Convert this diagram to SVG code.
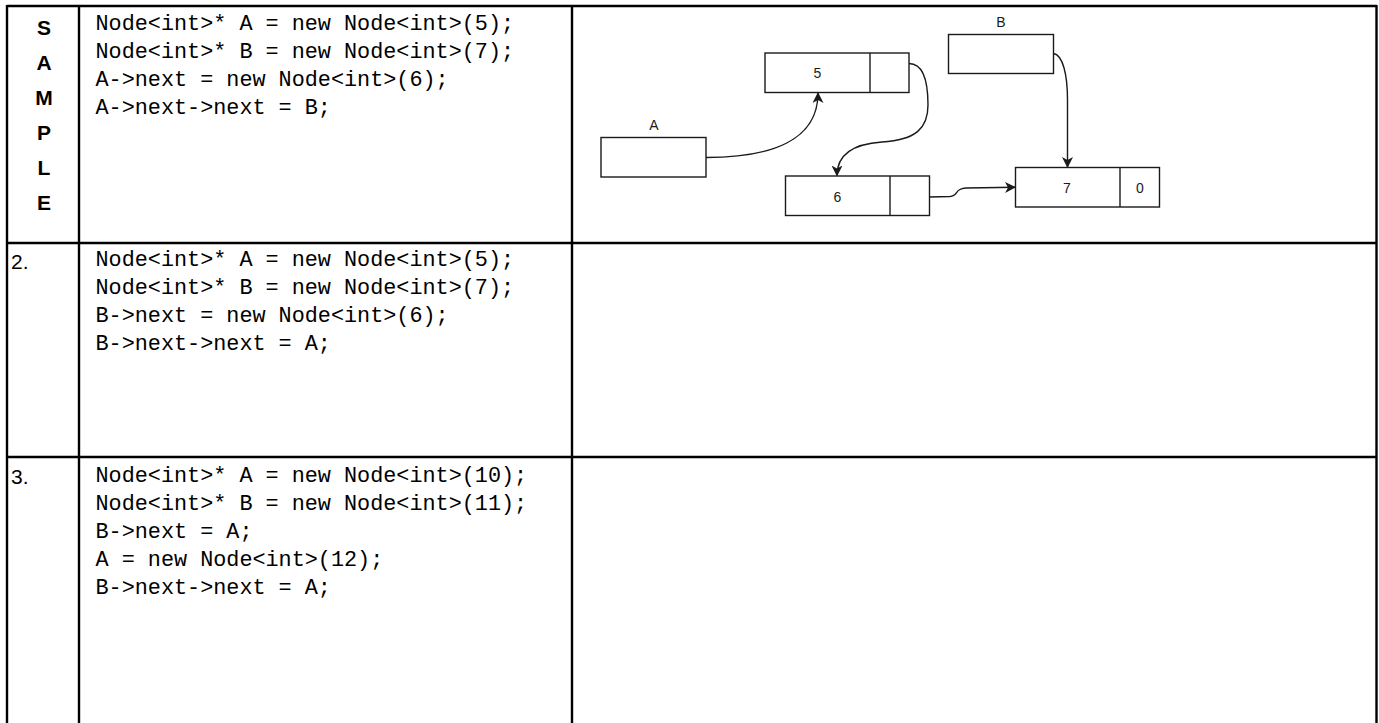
<svg xmlns="http://www.w3.org/2000/svg" width="1379" height="723" viewBox="0 0 1379 723">
  <style>
    .grid { stroke: #000; stroke-width: 2.4; fill: none; }
    .code { font-family: "Liberation Mono", "DejaVu Sans Mono", monospace; font-size: 21.8px; fill: #000; }
    .tag { font-family: "Liberation Sans", Arial, sans-serif; font-size: 21px; fill: #000; }
    .tagb { font-family: "Liberation Sans", Arial, sans-serif; font-size: 21px; font-weight: bold; fill: #000; text-anchor: middle; }
    .box { fill: #fff; stroke: #1a1a1a; stroke-width: 1.4; }
    .lbl { font-family: "Liberation Sans", Arial, sans-serif; font-size: 14px; fill: #1a1a1a; text-anchor: middle; }
    .edge { fill: none; stroke: #1a1a1a; stroke-width: 1.4; }
  </style>
  <defs>
    <marker id="arrow" viewBox="0 0 11 11" refX="10" refY="5.5" markerWidth="11" markerHeight="11" markerUnits="userSpaceOnUse" orient="auto">
      <path d="M0,0 L11,5.5 L0,11 L3,5.5 Z" fill="#1a1a1a"/>
    </marker>
  </defs>
  <rect width="1379" height="723" fill="#fff"/>

  <!-- table grid -->
  <g id="table">
    <line class="grid" x1="7" y1="6" x2="1377" y2="6"/>
    <line class="grid" x1="7" y1="5" x2="7" y2="723"/>
    <line class="grid" x1="79" y1="5" x2="79" y2="723"/>
    <line class="grid" x1="572" y1="5" x2="572" y2="723"/>
    <line class="grid" x1="1376.5" y1="5" x2="1376.5" y2="723"/>
    <line class="grid" x1="7" y1="243" x2="1377" y2="243"/>
    <line class="grid" x1="7" y1="457" x2="1377" y2="457"/>
  </g>

  <!-- row labels -->
  <g id="row-labels">
    <text class="tagb" x="44" y="35">S</text>
    <text class="tagb" x="44" y="70">A</text>
    <text class="tagb" x="44" y="105">M</text>
    <text class="tagb" x="44" y="140">P</text>
    <text class="tagb" x="44" y="175">L</text>
    <text class="tagb" x="44" y="210">E</text>
    <text class="tag" x="11" y="269">2.</text>
    <text class="tag" x="11" y="484">3.</text>
  </g>

  <!-- code listings -->
  <g id="code-sample" class="code">
    <text x="95.5" y="30">Node&lt;int&gt;* A = new Node&lt;int&gt;(5);</text>
    <text x="95.5" y="58">Node&lt;int&gt;* B = new Node&lt;int&gt;(7);</text>
    <text x="95.5" y="86">A-&gt;next = new Node&lt;int&gt;(6);</text>
    <text x="95.5" y="114">A-&gt;next-&gt;next = B;</text>
  </g>
  <g id="code-2" class="code">
    <text x="95.5" y="266">Node&lt;int&gt;* A = new Node&lt;int&gt;(5);</text>
    <text x="95.5" y="294">Node&lt;int&gt;* B = new Node&lt;int&gt;(7);</text>
    <text x="95.5" y="322">B-&gt;next = new Node&lt;int&gt;(6);</text>
    <text x="95.5" y="350">B-&gt;next-&gt;next = A;</text>
  </g>
  <g id="code-3" class="code">
    <text x="95.5" y="482">Node&lt;int&gt;* A = new Node&lt;int&gt;(10);</text>
    <text x="95.5" y="510">Node&lt;int&gt;* B = new Node&lt;int&gt;(11);</text>
    <text x="95.5" y="538">B-&gt;next = A;</text>
    <text x="95.5" y="566">A = new Node&lt;int&gt;(12);</text>
    <text x="95.5" y="594">B-&gt;next-&gt;next = A;</text>
  </g>

  <!-- sample linked-list picture -->
  <g id="ptr-A">
    <text class="lbl" x="654" y="130">A</text>
    <rect class="box" x="601" y="137.5" width="105" height="39.5"/>
  </g>
  <g id="ptr-B">
    <text class="lbl" x="1001" y="27">B</text>
    <rect class="box" x="948.5" y="34.5" width="105" height="39"/>
  </g>
  <g id="node-5">
    <rect class="box" x="765" y="53" width="144" height="39.5"/>
    <line class="box" x1="870" y1="53" x2="870" y2="92.5"/>
    <text class="lbl" x="817.5" y="78">5</text>
  </g>
  <g id="node-6">
    <rect class="box" x="785.5" y="176" width="144" height="39.5"/>
    <line class="box" x1="890" y1="176" x2="890" y2="215.5"/>
    <text class="lbl" x="837.5" y="202">6</text>
  </g>
  <g id="node-7">
    <rect class="box" x="1015.5" y="167.5" width="144" height="39.5"/>
    <line class="box" x1="1120" y1="167.5" x2="1120" y2="207"/>
    <text class="lbl" x="1067" y="192.5">7</text>
    <text class="lbl" x="1140" y="192.5">0</text>
  </g>

  <g id="connectors">
    <path class="edge" marker-end="url(#arrow)" d="M706,157.5 C772,157.5 818,140 818,93"/>
    <path class="edge" marker-end="url(#arrow)" d="M909,63.5 C923,63.5 928,82 928,105 C928,128 916,140 882,142 C852,144 837,155 837,175.5"/>
    <path class="edge" marker-end="url(#arrow)" d="M1053.5,53.5 C1063,55 1067.5,75 1067.5,100 L1067.5,167"/>
    <path class="edge" marker-end="url(#arrow)" d="M929.5,197 L950,196.5 C959,196 954,188.5 966,188 L1015,187.3"/>
  </g>
</svg>
